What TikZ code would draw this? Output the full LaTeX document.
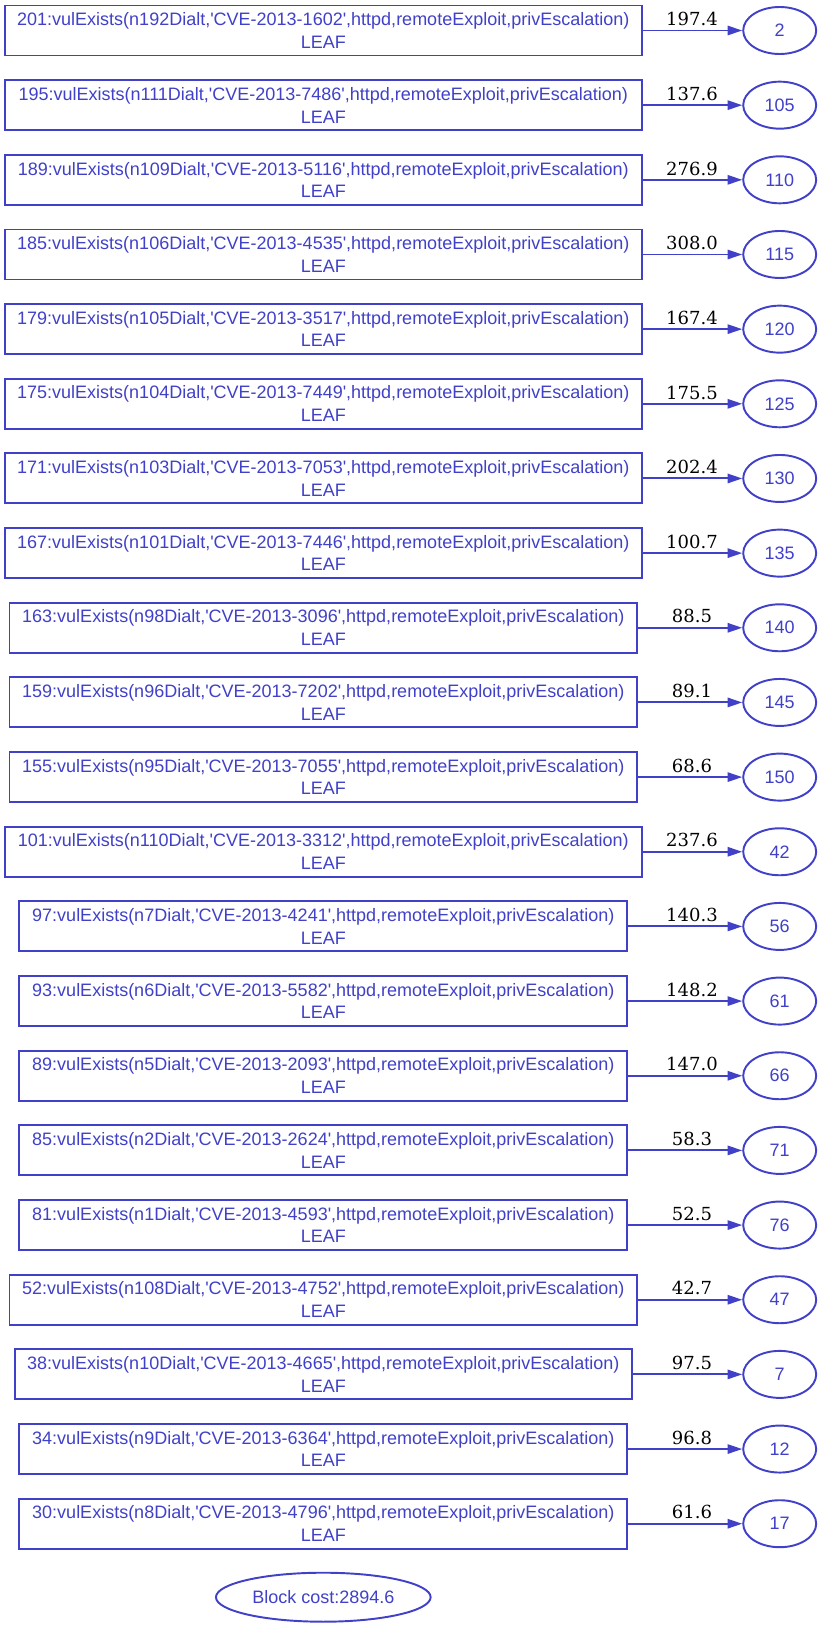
\documentclass[tikz,border=0pt]{standalone}
\usepackage{fontspec}
\setmainfont{Liberation Sans}[Ligatures=TeXOff]
\newfontfamily\edgefont{DejaVu Serif}
\usetikzlibrary{arrows.meta,shapes.geometric}
\definecolor{gv}{RGB}{64,64,200}
\begin{document}
\begin{tikzpicture}[x=0.75pt,y=-0.75pt,
  leafbox/.style={draw=gv, line width=1.45pt, rectangle, inner sep=0pt,
    minimum height=37.5pt, text=gv, align=center,
    font=\fontsize{13.5}{17}\selectfont},
  tgtell/.style={draw=gv, line width=1.45pt, ellipse, inner sep=0pt,
    minimum width=54.75pt, minimum height=35.25pt, text=gv,
    font=\fontsize{13.5}{16}\selectfont},
  arr/.style={draw=gv, line width=1.45pt, -{Triangle[length=11pt,width=7pt]}},
  costlbl/.style={font=\edgefont\fontsize{13.5}{16}\selectfont, anchor=base, inner sep=0pt}]
\useasboundingbox (0,0) rectangle (821,1627);
\foreach \i/\id/\nd/\cve/\hw/\cost/\tgt in {
  0/201/n192/1602/318.3/197.4/2,
  1/195/n111/7486/318.3/137.6/105,
  2/189/n109/5116/318.3/276.9/110,
  3/185/n106/4535/318.3/308.0/115,
  4/179/n105/3517/318.3/167.4/120,
  5/175/n104/7449/318.3/175.5/125,
  6/171/n103/7053/318.3/202.4/130,
  7/167/n101/7446/318.3/100.7/135,
  8/163/n98/3096/313.8/88.5/140,
  9/159/n96/7202/313.8/89.1/145,
  10/155/n95/7055/313.8/68.6/150,
  11/101/n110/3312/318.3/237.6/42,
  12/97/n7/4241/304/140.3/56,
  13/93/n6/5582/304/148.2/61,
  14/89/n5/2093/304/147.0/66,
  15/85/n2/2624/304/58.3/71,
  16/81/n1/4593/304/52.5/76,
  17/52/n108/4752/313.8/42.7/47,
  18/38/n10/4665/308.3/97.5/7,
  19/34/n9/6364/304/96.8/12,
  20/30/n8/4796/304/61.6/17}{
  \pgfmathsetmacro\yy{30.5+74.66*\i}
  \pgfmathsetmacro\ww{1.5*\hw}
  \node[leafbox, minimum width=\ww pt] (box\i) at (323.3,\yy)
    {\id:vulExists(\nd Dialt,'CVE-2013-\cve',httpd,remoteExploit,privEscalation)\\LEAF};
  \node[tgtell] (c\i) at (779.7,\yy) {\tgt};
  \draw[arr] (box\i.east) -- (c\i.west);
  \node[costlbl] (l\i) at (692,\yy-4.8) {\cost};
}
\node[draw=gv, line width=1.45pt, ellipse, inner sep=0pt,
  minimum width=161pt, minimum height=36.75pt, text=gv,
  font=\fontsize{13.5}{16}\selectfont] (block) at (323.3,1597.2) {Block cost:2894.6};
\end{tikzpicture}
\end{document}
